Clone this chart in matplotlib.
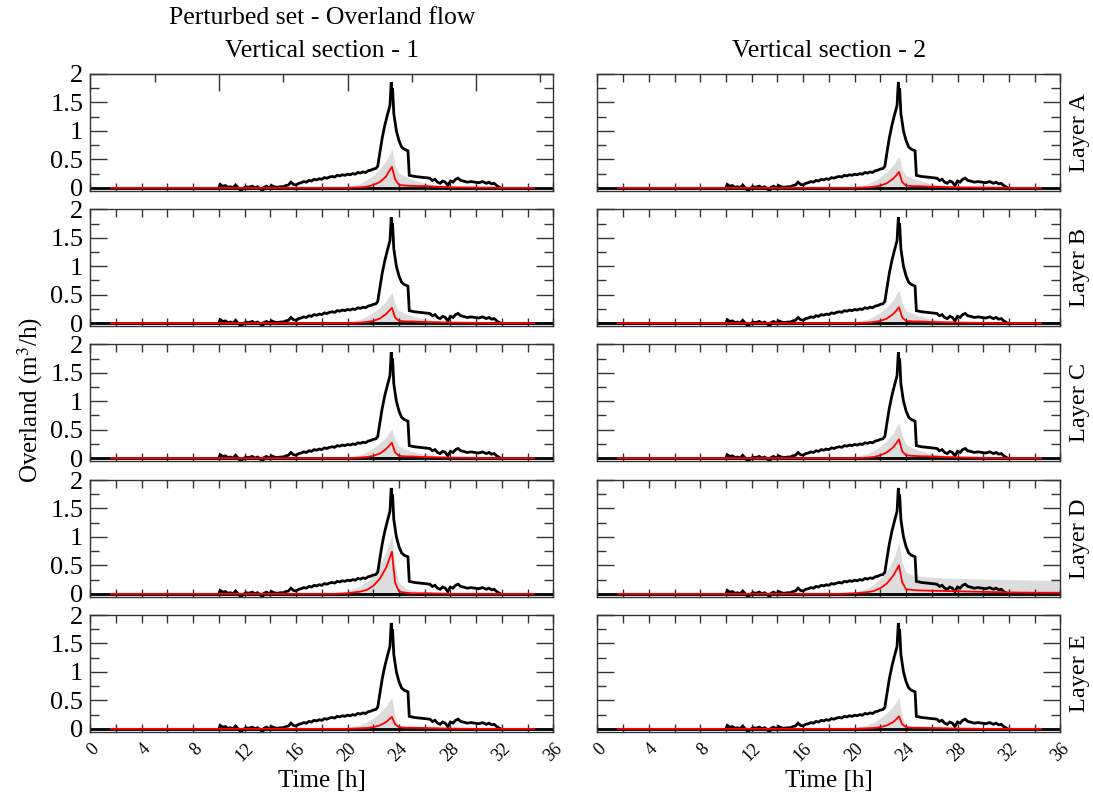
import numpy as np
import matplotlib
matplotlib.use("Agg")
import matplotlib.pyplot as plt
from matplotlib.ticker import MultipleLocator, FixedLocator, NullFormatter

plt.rcParams['font.family'] = ['Liberation Serif', 'DejaVu Serif']
plt.rcParams['mathtext.fontset'] = 'stix'

# ---------------- data ----------------
layers = ["Layer A", "Layer B", "Layer C", "Layer D", "Layer E"]
sections = ["Vertical section - 1", "Vertical section - 2"]
x_ticks = [0, 4, 8, 12, 16, 20, 24, 28, 32, 36]
y_ticks = [0, 0.5, 1, 1.5, 2]
y_tick_labels = ["0", "0.5", "1", "1.5", "2"]

# observed overland flow (same in every panel)
obs_t = [10.0, 10.1, 10.3, 10.5, 10.7, 10.9, 11.1, 11.3, 11.5, 11.7, 11.9, 12.1, 12.3,
         12.6, 12.8, 13.0, 13.2, 13.4, 13.5, 13.7, 13.9, 14.1, 14.3, 14.5, 14.8, 15.0,
         15.2, 15.4, 15.6, 15.8, 16.0, 16.2, 16.4, 16.6, 16.8, 17.0, 17.2, 17.4, 17.6,
         17.8, 18.0, 18.2, 18.4, 18.6, 18.8, 19.0, 19.2, 19.4, 19.6, 19.8, 20.0, 20.2,
         20.4, 20.6, 20.8, 21.0, 21.2, 21.4, 21.6, 21.8, 22.0, 22.2, 22.35, 22.5, 22.7,
         22.9, 23.1, 23.3, 23.4, 23.45, 23.5, 23.6, 23.8, 24.0, 24.2, 24.4, 24.7, 24.8,
         25.2, 25.6, 26.0, 26.4, 26.6, 26.8, 27.0, 27.2, 27.4, 27.6, 27.8, 28.0, 28.2,
         28.4, 28.6, 28.8, 29.0, 29.3, 29.6, 29.9, 30.2, 30.5, 30.8, 31.0, 31.2, 31.4,
         31.6, 31.9]
obs_q = [0.0, 0.06, 0.03, 0.04, 0.01, 0.02, 0.0, 0.05, 0.0, -0.05, -0.01, 0.02, 0.01,
         0.03, 0.0, 0.02, -0.01, -0.06, 0.01, 0.03, 0.0, 0.04, 0.02, 0.01, 0.02, 0.02,
         0.04, 0.05, 0.1, 0.06, 0.05, 0.08, 0.09, 0.11, 0.1, 0.13, 0.12, 0.15, 0.14,
         0.16, 0.15, 0.18, 0.17, 0.19, 0.2, 0.19, 0.22, 0.21, 0.23, 0.22, 0.24, 0.23,
         0.25, 0.24, 0.27, 0.26, 0.28, 0.27, 0.3, 0.31, 0.33, 0.34, 0.38, 0.6, 0.88,
         1.1, 1.28, 1.45, 1.86, 1.6, 1.75, 1.3, 1.0, 0.83, 0.72, 0.68, 0.65, 0.22,
         0.2, 0.19, 0.18, 0.17, 0.13, 0.15, 0.1, 0.08, 0.12, 0.1, 0.04, 0.12, 0.1,
         0.15, 0.17, 0.13, 0.12, 0.1, 0.11, 0.1, 0.09, 0.11, 0.08, 0.1, 0.07, 0.08,
         0.04, 0.0]

# ensemble time grid
ens_t = [1.6, 19.0, 20.0, 21.0, 21.5, 22.0, 22.5, 23.0, 23.2, 23.45, 23.7, 24.0, 24.5,
         25.0, 26.0, 27.0, 28.0, 30.0, 32.0, 34.0, 34.5, 36.0]

# ensemble mean (red) per panel [row][col]
red = {
    (0, 0): [0, 0, 0, 0.01, 0.02, 0.05, 0.1, 0.2, 0.28, 0.37, 0.15, 0.05, 0.04, 0.035, 0.03, 0.02, 0.01, 0.005, 0, 0, 0, np.nan],
    (0, 1): [0, 0, 0, 0.01, 0.02, 0.04, 0.08, 0.16, 0.21, 0.28, 0.1, 0.04, 0.03, 0.03, 0.02, 0.015, 0.01, 0.005, 0, 0, 0, np.nan],
    (1, 0): [0, 0, 0, 0.01, 0.02, 0.04, 0.08, 0.16, 0.21, 0.27, 0.1, 0.04, 0.03, 0.03, 0.02, 0.015, 0.01, 0.005, 0, 0, 0, np.nan],
    (1, 1): [0, 0, 0, 0.01, 0.02, 0.04, 0.08, 0.16, 0.21, 0.28, 0.1, 0.04, 0.03, 0.03, 0.02, 0.015, 0.01, 0.005, 0, 0, 0, np.nan],
    (2, 0): [0, 0, 0, 0.01, 0.02, 0.04, 0.08, 0.16, 0.21, 0.27, 0.1, 0.04, 0.03, 0.03, 0.02, 0.015, 0.01, 0.005, 0, 0, 0, np.nan],
    (2, 1): [0, 0, 0, 0.01, 0.02, 0.05, 0.1, 0.19, 0.25, 0.33, 0.12, 0.05, 0.04, 0.035, 0.03, 0.02, 0.015, 0.005, 0, 0, 0, np.nan],
    (3, 0): [0, 0, 0.01, 0.04, 0.07, 0.14, 0.26, 0.46, 0.58, 0.74, 0.2, 0.04, 0.02, 0.01, 0.01, 0.005, 0, 0, 0, 0, 0, np.nan],
    (3, 1): [0, 0, 0.01, 0.03, 0.05, 0.1, 0.18, 0.32, 0.4, 0.5, 0.2, 0.08, 0.07, 0.06, 0.055, 0.05, 0.045, 0.035, 0.025, 0.02, 0.02, 0.02],
    (4, 0): [0, 0, 0, 0.01, 0.015, 0.03, 0.06, 0.12, 0.16, 0.21, 0.08, 0.03, 0.02, 0.02, 0.015, 0.01, 0.005, 0, 0, 0, 0, np.nan],
    (4, 1): [0, 0, 0, 0.01, 0.015, 0.03, 0.06, 0.12, 0.16, 0.22, 0.08, 0.03, 0.02, 0.02, 0.015, 0.01, 0.005, 0, 0, 0, 0, np.nan],
}

# upper envelope of perturbed members (grey) per panel
grey = {
    (0, 0): [0, 0, 0.02, 0.08, 0.14, 0.22, 0.33, 0.48, 0.56, 0.69, 0.4, 0.26, 0.2, 0.15, 0.08, 0.04, 0.01, 0, 0, 0, 0, 0],
    (0, 1): [0, 0, 0.02, 0.07, 0.12, 0.19, 0.28, 0.4, 0.47, 0.56, 0.33, 0.22, 0.17, 0.13, 0.07, 0.04, 0.02, 0.01, 0, 0, 0, 0],
    (1, 0): [0, 0, 0.02, 0.07, 0.12, 0.19, 0.27, 0.39, 0.46, 0.55, 0.33, 0.22, 0.17, 0.13, 0.07, 0.04, 0.02, 0.01, 0, 0, 0, 0],
    (1, 1): [0, 0, 0.02, 0.07, 0.12, 0.19, 0.28, 0.41, 0.49, 0.58, 0.35, 0.22, 0.17, 0.13, 0.07, 0.04, 0.02, 0.01, 0, 0, 0, 0],
    (2, 0): [0, 0, 0.02, 0.06, 0.11, 0.18, 0.26, 0.37, 0.44, 0.52, 0.32, 0.21, 0.16, 0.12, 0.07, 0.04, 0.02, 0.01, 0, 0, 0, 0],
    (2, 1): [0, 0, 0.02, 0.08, 0.13, 0.21, 0.31, 0.44, 0.53, 0.63, 0.38, 0.24, 0.18, 0.14, 0.08, 0.05, 0.03, 0.01, 0, 0, 0, 0],
    (3, 0): [0, 0.01, 0.05, 0.14, 0.22, 0.33, 0.5, 0.75, 0.88, 1.03, 0.5, 0.2, 0.1, 0.06, 0.04, 0.02, 0.01, 0, 0, 0, 0, 0],
    (3, 1): [0, 0, 0.03, 0.1, 0.17, 0.27, 0.4, 0.6, 0.73, 0.9, 0.55, 0.38, 0.33, 0.31, 0.29, 0.28, 0.27, 0.26, 0.25, 0.24, 0.24, 0.24],
    (4, 0): [0, 0, 0.02, 0.07, 0.12, 0.19, 0.28, 0.4, 0.47, 0.55, 0.2, 0.06, 0.03, 0.02, 0.01, 0.005, 0, 0, 0, 0, 0, 0],
    (4, 1): [0, 0, 0.02, 0.07, 0.12, 0.19, 0.28, 0.4, 0.47, 0.56, 0.2, 0.06, 0.03, 0.02, 0.01, 0.005, 0, 0, 0, 0, 0, 0],
}

# ---------------- figure ----------------
W, H = 1093, 793
fig = plt.figure(figsize=(W / 100, H / 100), dpi=100)

col_left = [90.3, 597.4]
ax_w = 463.0
row_top = [74.0, 209.3, 344.3, 480.0, 615.0]
ax_h = 116.7

frame_col = '#333333'
axes = {}
for r in range(5):
    for c in range(2):
        ax = fig.add_axes([col_left[c] / W, 1 - (row_top[r] + ax_h) / H, ax_w / W, ax_h / H])
        axes[(r, c)] = ax
        et = np.array(ens_t)
        ax.fill_between(et, 0, np.array(grey[(r, c)]), color='#dcdcdc', lw=0, zorder=1)
        ax.axhline(0, color='black', lw=2.0, zorder=2)
        ax.plot(obs_t, obs_q, color='black', lw=2.0, zorder=3, solid_joinstyle='miter')
        ax.plot(et, np.array(red[(r, c)]), color='#ff0000', lw=1.3, zorder=4)

        ax.set_xlim(0, 36)
        ax.set_ylim(-0.05, 2.0)
        ax.set_yticks(y_ticks)
        ax.yaxis.set_minor_locator(MultipleLocator(0.25))
        ax.xaxis.set_major_locator(FixedLocator(x_ticks))
        ax.xaxis.set_minor_locator(MultipleLocator(2))
        for s in ax.spines.values():
            s.set_color(frame_col)
            s.set_linewidth(1.0)
        ax.tick_params(axis='y', which='major', direction='in', length=12, width=1,
                       left=True, right=True, color=frame_col, labelsize=19, pad=5)
        ax.tick_params(axis='y', which='minor', direction='in', length=6.5, width=1,
                       left=True, right=True, color=frame_col)
        top_on = not (r == 0 and c == 0)
        ax.tick_params(axis='x', which='both', direction='in', length=6, width=1,
                       top=top_on, bottom=True, color=frame_col)
        if c == 0:
            ax.set_yticklabels(y_tick_labels)
        else:
            ax.set_yticklabels([])
        if r == 4:
            ax.set_xticklabels([str(v) for v in x_ticks], rotation=45, ha='right',
                               rotation_mode='anchor', fontsize=13)
            ax.tick_params(axis='x', pad=6)
            ax.set_xlabel("Time [h]", fontsize=18, labelpad=4)
        else:
            ax.set_xticklabels([])
        if c == 1:
            ax.text(1.018, 0.5, layers[r], transform=ax.transAxes, rotation=90,
                    ha='left', va='center', fontsize=17.5)
        if r == 0:
            ax.set_title(sections[c], fontsize=18.5, pad=12)
        if r == 0 and c == 0:
            sec = ax.secondary_xaxis('top')
            sec.xaxis.set_major_locator(FixedLocator([0, 10, 20, 30]))
            sec.xaxis.set_minor_locator(FixedLocator([5, 15, 25, 35]))
            sec.xaxis.set_major_formatter(NullFormatter())
            sec.tick_params(axis='x', which='major', direction='in', length=12, width=1, color=frame_col)
            sec.tick_params(axis='x', which='minor', direction='in', length=6, width=1, color=frame_col)
            sec.spines['top'].set_color(frame_col)

fig.text((90.3 + ax_w / 2) / W, 1 - 18 / H, "Perturbed set - Overland flow",
         ha='center', va='center', fontsize=18.5)
fig.text(30 / W, 1 - 400 / H, r"Overland (m$^3$/h)", rotation=90,
         ha='center', va='center', fontsize=18)

fig.savefig("out.png", dpi=100)
